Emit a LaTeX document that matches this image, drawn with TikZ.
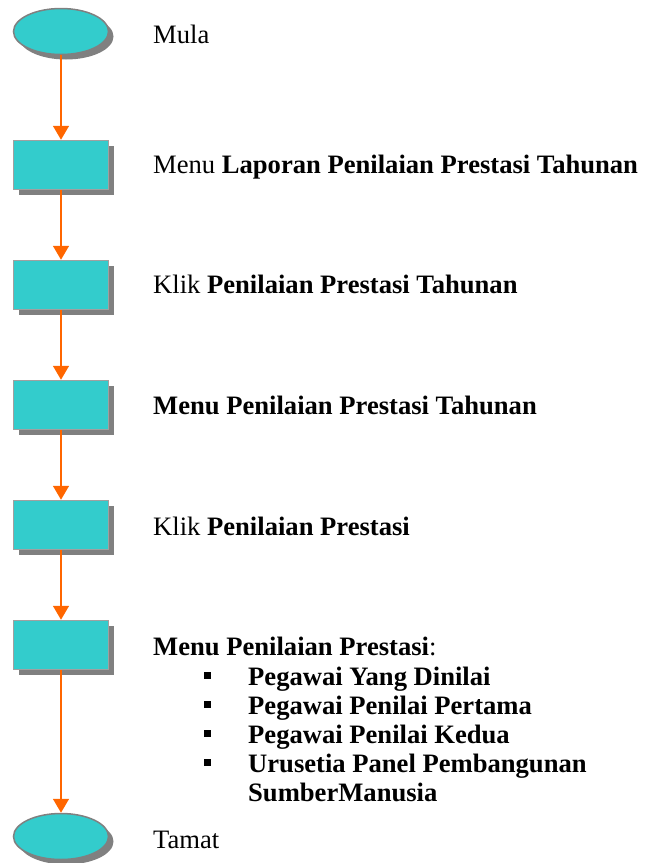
\documentclass[tikz,border=0pt]{standalone}
\usepackage{fontspec}
\setmainfont{Liberation Serif}
\usetikzlibrary{shadows,arrows.meta,shapes.geometric}
\definecolor{tealfill}{HTML}{33CCCC}
\definecolor{borderdark}{HTML}{808080}
\definecolor{borderlight}{HTML}{A0A0A0}
\definecolor{shadowgray}{HTML}{808080}
\definecolor{arroworange}{HTML}{FF6600}
\begin{document}
\begin{tikzpicture}[x=1pt,y=-1pt,
  term/.style={ellipse, draw=borderdark, line width=1.5pt, fill=tealfill,
    minimum width=95pt, minimum height=46pt, inner sep=0pt,
    drop shadow={shadow xshift=5pt, shadow yshift=-5pt, fill=shadowgray, opacity=1}},
  proc/.style={rectangle, draw=borderlight, line width=1.5pt, fill=tealfill,
    minimum width=95pt, minimum height=49pt, inner sep=0pt,
    drop shadow={shadow xshift=5pt, shadow yshift=-5pt, fill=shadowgray, opacity=1}},
  flow/.style={draw=arroworange, line width=1.5pt, -{Triangle[length=14pt,width=16pt]}},
  lbl/.style={anchor=base west, inner sep=0pt, font=\fontsize{26.6}{30}\selectfont},
  bul/.style={rectangle, fill=black, minimum size=7pt, inner sep=0pt}]
\useasboundingbox (0,0) rectangle (647,863);
% shapes
\node[term] (start) at (61,31.5) {};
\node[proc] (p1) at (61,165) {};
\node[proc] (p2) at (61,285) {};
\node[proc] (p3) at (61,405) {};
\node[proc] (p4) at (61,525) {};
\node[proc] (p5) at (61,645) {};
\node[term] (end) at (61,836.5) {};
% connectors
\draw[flow] (start.south) -- (p1.north);
\draw[flow] (p1.south) -- (p2.north);
\draw[flow] (p2.south) -- (p3.north);
\draw[flow] (p3.south) -- (p4.north);
\draw[flow] (p4.south) -- (p5.north);
\draw[flow] (p5.south) -- (end.north);
% labels
\node[lbl] (t0) at (153,43) {Mula};
\node[lbl] (t1) at (153,173) {Menu \textbf{Laporan Penilaian Prestasi Tahunan}};
\node[lbl] (t2) at (153,293) {Klik \textbf{Penilaian Prestasi Tahunan}};
\node[lbl] (t3) at (153,414) {\textbf{Menu Penilaian Prestasi Tahunan}};
\node[lbl] (t4) at (153,535) {Klik \textbf{Penilaian Prestasi}};
\node[lbl] (t5) at (153,655) {\textbf{Menu Penilaian Prestasi}:};
\node[bul] (b1) at (207,675) {};
\node[lbl] (i1) at (248,685) {\textbf{Pegawai Yang Dinilai}};
\node[bul] (b2) at (207,704) {};
\node[lbl] (i2) at (248,714) {\textbf{Pegawai Penilai Pertama}};
\node[bul] (b3) at (207,733) {};
\node[lbl] (i3) at (248,743) {\textbf{Pegawai Penilai Kedua}};
\node[bul] (b4) at (207,762) {};
\node[lbl] (i4) at (248,772) {\textbf{Urusetia Panel Pembangunan}};
\node[lbl] (i5) at (248,801) {\textbf{SumberManusia}};
\node[lbl] (t6) at (153,848) {Tamat};
\end{tikzpicture}
\end{document}
